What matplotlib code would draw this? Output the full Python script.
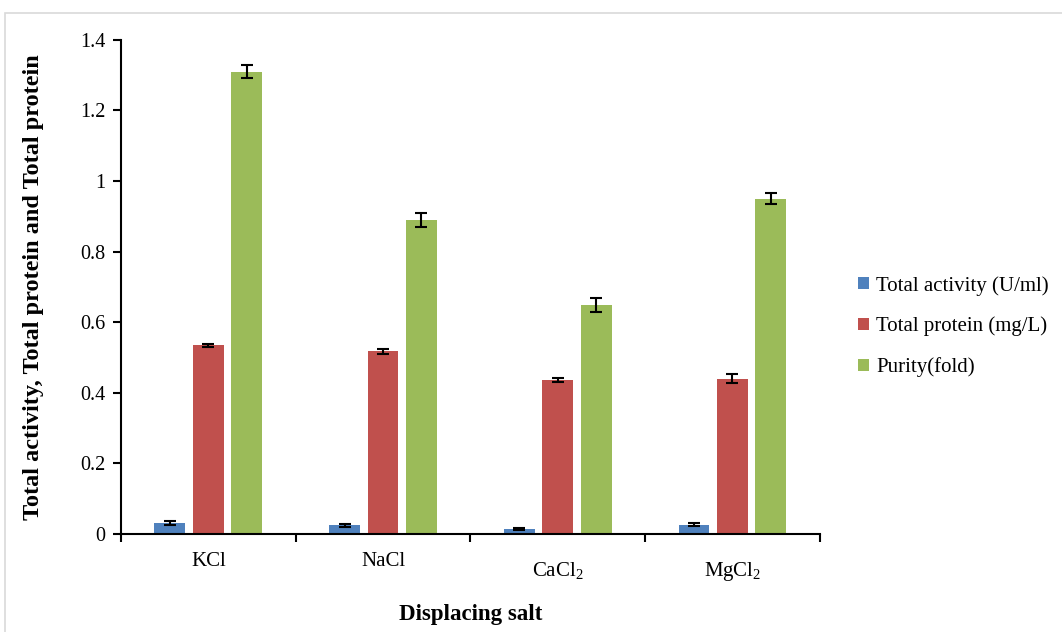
#!/usr/bin/env python3

import numpy as np
import matplotlib
matplotlib.use("Agg")
import matplotlib.pyplot as plt
from matplotlib.patches import Rectangle
from matplotlib.transforms import ScaledTranslation

plt.rcParams['font.family'] = ['Liberation Serif', 'DejaVu Serif']
plt.rcParams['mathtext.fontset'] = 'custom'
plt.rcParams['mathtext.rm'] = 'Liberation Serif'

# data
salts = ['KCl', 'NaCl', 'CaCl$_2$', 'MgCl$_2$']
series_names = ['Total activity (U/ml)', 'Total protein (mg/L)', 'Purity(fold)']
activity = [0.031, 0.025, 0.015, 0.027]
activity_err = [0.005, 0.004, 0.003, 0.004]
protein = [0.535, 0.518, 0.437, 0.440]
protein_err = [0.004, 0.007, 0.006, 0.012]
purity = [1.31, 0.89, 0.65, 0.95]
purity_err = [0.018, 0.02, 0.02, 0.015]
yticks = [0, 0.2, 0.4, 0.6, 0.8, 1, 1.2, 1.4]
ytick_labels = ['0', '0.2', '0.4', '0.6', '0.8', '1', '1.2', '1.4']

colors = ['#4F81BD', '#C0504D', '#9BBB59']

fig = plt.figure(figsize=(10.62, 6.32), dpi=100)
# light frame around the chart
fig.patches.append(Rectangle((0.005, -0.01), 1.0, 0.99, transform=fig.transFigure,
                             fill=False, edgecolor='#d9d9d9', linewidth=1.2))
ax = fig.add_axes([0.1139, 0.155, 0.658, 0.782])

x = np.arange(len(salts))
width = 0.177
step = 0.22
vals = [activity, protein, purity]
errs = [activity_err, protein_err, purity_err]
for i in range(3):
    ax.bar(x + (i - 1) * step, vals[i], width, color=colors[i], label=series_names[i],
           yerr=errs[i], capsize=4.5, error_kw=dict(elinewidth=1.5, capthick=1.5, ecolor='black'),
           zorder=2)

ax.set_xlim(-0.5, len(salts) - 0.5)
ax.set_ylim(0, 1.4)
ax.set_yticks(yticks)
ax.set_yticklabels(ytick_labels, fontsize=14.5)
ax.set_xticks(x)
ax.set_xticklabels(salts, fontsize=15)
ax.tick_params(axis='x', length=0, pad=13)
ax.set_xticks(np.arange(len(salts) + 1) - 0.5, minor=True)
ax.tick_params(axis='x', which='minor', length=6, width=1.5, direction='out')
ax.tick_params(axis='y', length=6, width=1.5, direction='out', pad=5)

# subscripted labels sit a bit lower in the original
for lab in ax.get_xticklabels():
    if '$' in lab.get_text():
        lab.set_transform(lab.get_transform() + ScaledTranslation(0, -6 / 72, fig.dpi_scale_trans))

for s in ['top', 'right']:
    ax.spines[s].set_visible(False)
for s in ['left', 'bottom']:
    ax.spines[s].set_linewidth(1.5)

ax.set_ylabel('Total activity, Total protein and Total protein', fontsize=17.5,
              fontweight='bold', labelpad=26)
ax.set_xlabel('Displacing salt', fontsize=16.5, fontweight='bold', labelpad=15)

ax.legend(loc='center left', bbox_to_anchor=(1.055, 0.42), frameon=False, fontsize=15,
          handlelength=0.5, handleheight=0.5, handletextpad=0.35, labelspacing=1.0,
          borderpad=0, borderaxespad=0)

fig.savefig('out.png', dpi=100)
